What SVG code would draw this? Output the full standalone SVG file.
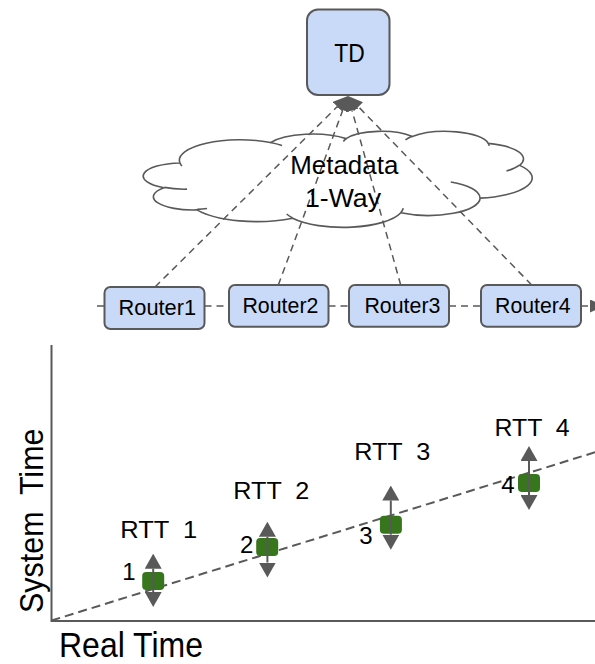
<svg xmlns="http://www.w3.org/2000/svg" width="595" height="664" viewBox="0 0 595 664">
  <style>
    .lbl { font-family: "Liberation Sans", Arial, sans-serif; fill: #000; text-anchor: middle; white-space: pre; }
    .box { fill: #c9daf8; stroke: #595959; stroke-width: 2; }
    .link { fill: none; stroke: #595959; stroke-width: 1.5; stroke-dasharray: 7 5; }
    .cloud { fill: #fff; stroke: #595959; stroke-width: 1.6; }
    .cloud-inner { fill: none; stroke: #595959; stroke-width: 1.6; }
    .axis { fill: none; stroke: #595959; stroke-width: 2; }
    .trend { fill: none; stroke: #595959; stroke-width: 2; stroke-dasharray: 9 5; }
    .dot { fill: #38761d; }
    .range { stroke: #595959; stroke-width: 2; }
  </style>
  <defs>
    <marker id="head" viewBox="0 0 15 13" markerUnits="userSpaceOnUse" markerWidth="15" markerHeight="13" refX="0" refY="6.5" orient="auto">
      <path d="M0,0 L15,6.5 L0,13 Z" fill="#595959"/>
    </marker>
    <marker id="headWide" viewBox="0 0 15 17" markerUnits="userSpaceOnUse" markerWidth="15" markerHeight="17" refX="0" refY="8.5" orient="auto-start-reverse">
      <path d="M0,0 L15,8.5 L0,17 Z" fill="#595959"/>
    </marker>
  </defs>

  <!-- network cloud -->
  <g id="cloud">
    <path class="cloud" d="M179.94,162.93 A60.50,20.42 0 0 1 270.48,142.56 A47.77,16.15 0 0 1 346.18,138.63 A39.10,13.21 0 0 1 412.27,136.52 A43.51,14.66 0 0 1 488.28,143.40 A47.77,16.16 0 0 1 519.64,165.36 A60.69,20.49 0 0 1 480.10,198.12 A51.82,17.48 0 0 1 400.83,212.81 A60.49,20.48 0 0 1 292.66,218.26 A69.16,23.43 0 0 1 197.02,209.84 A39.06,13.15 0 0 1 163.95,187.79 A38.92,13.21 0 0 1 179.94,162.93 Z"/>
    <path class="cloud-inner" d="M187.04,189.17 A38.92,13.21 0 0 1 164.34,187.40 M207.06,208.55 A39.06,13.15 0 0 1 197.13,209.40 M292.62,217.87 A60.49,20.48 0 0 1 286.63,214.00 M403.24,208.22 A60.49,20.48 0 0 1 400.85,212.47 M450.74,182.01 A51.82,17.48 0 0 1 479.86,197.87 M519.44,165.12 A47.77,16.16 0 0 1 506.47,171.07 M488.31,143.06 A43.51,14.66 0 0 1 489.00,145.87 M405.49,139.78 A43.51,14.66 0 0 1 412.14,136.20 M343.35,141.49 A39.10,13.21 0 0 1 346.56,138.40 M270.42,142.54 A60.50,20.42 0 0 1 282.05,145.53 M181.97,166.09 A60.50,20.42 0 0 1 179.94,162.93"/>
  </g>

  <!-- dashed links: routers to TD, and along the router chain -->
  <g id="connectors">
    <line class="link" x1="155" y1="287" x2="337.34" y2="106.55" marker-end="url(#head)"/>
    <line class="link" x1="278.3" y1="285" x2="342.81" y2="110.08" marker-end="url(#head)"/>
    <line class="link" x1="400.7" y1="285" x2="352.03" y2="110.45" marker-end="url(#head)"/>
    <line class="link" x1="531.7" y1="285" x2="358.45" y2="106.75" marker-end="url(#head)"/>
    <line class="link" x1="97" y1="306" x2="104.5" y2="306"/>
    <line class="link" x1="204.5" y1="306" x2="229" y2="306"/>
    <line class="link" x1="328.5" y1="306" x2="349" y2="306"/>
    <line class="link" x1="449" y1="306" x2="481" y2="306"/>
    <line class="link" x1="581" y1="306" x2="590" y2="306" marker-end="url(#head)"/>
  </g>

  <!-- text labels inside the cloud -->
  <g id="cloud-label">
    <text class="lbl" x="344.3" y="174.3" font-size="25" textLength="108" lengthAdjust="spacingAndGlyphs">Metadata</text>
    <text class="lbl" x="343" y="206.5" font-size="25" textLength="76" lengthAdjust="spacingAndGlyphs">1-Way</text>
  </g>

  <g id="td">
    <rect class="box" x="307" y="9.5" width="82.5" height="85.5" rx="11"/>
    <text class="lbl" x="349.6" y="61.7" font-size="25.5" textLength="30.5" lengthAdjust="spacingAndGlyphs">TD</text>
  </g>

  <g id="router1">
    <rect class="box" x="104.5" y="287" width="100" height="42" rx="6"/>
    <text class="lbl" x="157.3" y="315" font-size="22" textLength="77.5" lengthAdjust="spacingAndGlyphs">Router1</text>
  </g>
  <g id="router2">
    <rect class="box" x="229" y="285" width="99.5" height="41.7" rx="6"/>
    <text class="lbl" x="280.4" y="312.7" font-size="22" textLength="76" lengthAdjust="spacingAndGlyphs">Router2</text>
  </g>
  <g id="router3">
    <rect class="box" x="349" y="285" width="100" height="41.7" rx="6"/>
    <text class="lbl" x="402.4" y="313.3" font-size="22" textLength="76" lengthAdjust="spacingAndGlyphs">Router3</text>
  </g>
  <g id="router4">
    <rect class="box" x="481" y="285" width="100" height="41.7" rx="6"/>
    <text class="lbl" x="532.9" y="313.3" font-size="22" textLength="75.6" lengthAdjust="spacingAndGlyphs">Router4</text>
  </g>

  <!-- clock chart: system time against real time -->
  <g id="chart">
    <path class="axis" d="M51.5,345 V621 H595"/>
    <line class="trend" x1="51.5" y1="620.5" x2="595" y2="452.3"/>

    <text class="lbl" transform="translate(43.3,520.8) rotate(-90)" x="0" y="0" font-size="33.5" textLength="184.5" lengthAdjust="spacingAndGlyphs">System  Time</text>
    <text class="lbl" x="131" y="656.7" font-size="35" textLength="144" lengthAdjust="spacingAndGlyphs">Real Time</text>

    <g id="sample1">
      <rect class="dot" x="142.2" y="572" width="22" height="18" rx="4"/>
      <line class="range" x1="153.2" y1="568.7" x2="153.2" y2="592" marker-start="url(#headWide)" marker-end="url(#headWide)"/>
      <text class="lbl" x="158.7" y="538.3" font-size="24" textLength="77" lengthAdjust="spacingAndGlyphs">RTT  1</text>
      <text class="lbl" x="129" y="579.5" font-size="24">1</text>
    </g>
    <g id="sample2">
      <rect class="dot" x="256.2" y="538" width="22" height="18" rx="4"/>
      <line class="range" x1="267.4" y1="536.7" x2="267.4" y2="562.5" marker-start="url(#headWide)" marker-end="url(#headWide)"/>
      <text class="lbl" x="271.3" y="499.3" font-size="24" textLength="76" lengthAdjust="spacingAndGlyphs">RTT  2</text>
      <text class="lbl" x="246.7" y="552.5" font-size="24">2</text>
    </g>
    <g id="sample3">
      <rect class="dot" x="379.9" y="515.8" width="22" height="18" rx="4"/>
      <line class="range" x1="390.8" y1="500.5" x2="390.8" y2="534.7" marker-start="url(#headWide)" marker-end="url(#headWide)"/>
      <text class="lbl" x="392.2" y="460" font-size="24" textLength="76" lengthAdjust="spacingAndGlyphs">RTT  3</text>
      <text class="lbl" x="366" y="544" font-size="24">3</text>
    </g>
    <g id="sample4">
      <rect class="dot" x="518" y="474" width="22" height="18" rx="4"/>
      <line class="range" x1="529" y1="461" x2="529" y2="495" marker-start="url(#headWide)" marker-end="url(#headWide)"/>
      <text class="lbl" x="532" y="435.5" font-size="24" textLength="75" lengthAdjust="spacingAndGlyphs">RTT  4</text>
      <text class="lbl" x="507.9" y="493" font-size="24">4</text>
    </g>
  </g>
</svg>
